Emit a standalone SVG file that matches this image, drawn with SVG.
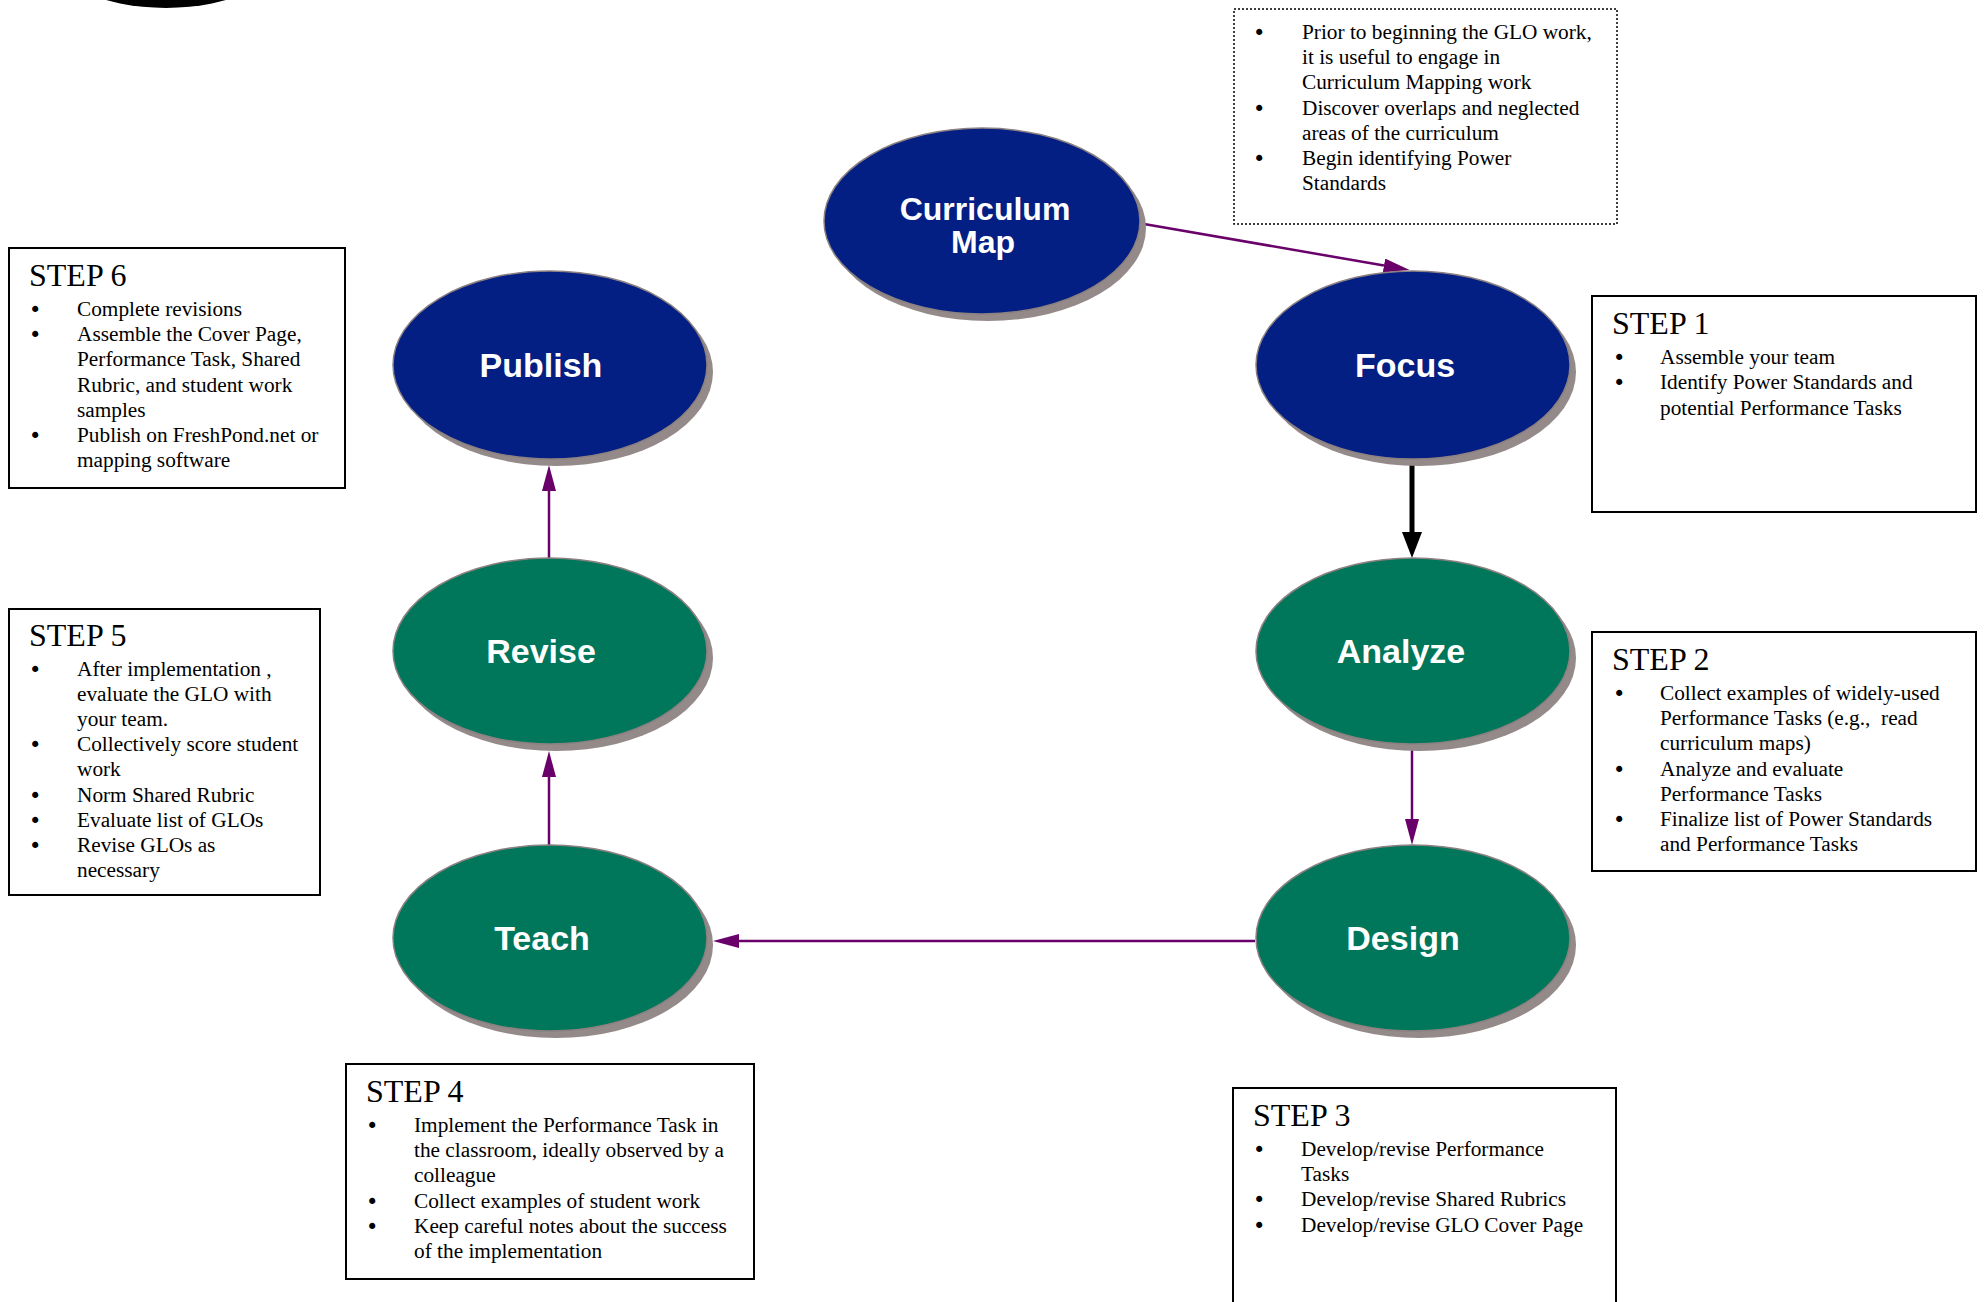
<svg xmlns="http://www.w3.org/2000/svg" width="1986" height="1302" viewBox="0 0 1986 1302">
<style>
.bg{fill:#ffffff}
.shadow{fill:#948a8a}
.blue{fill:#031f83;stroke:#8c8080;stroke-width:1.5}
.green{fill:#00765a;stroke:#8c8080;stroke-width:1.5}
.lbl{font-family:"Liberation Sans",Arial,sans-serif;font-weight:bold;font-size:34px;fill:#ffffff;text-anchor:middle}
.lbl2{font-size:32px}
.box{fill:#ffffff;stroke:#000000;stroke-width:2}
.dbox{fill:#ffffff;stroke:#000000;stroke-width:1.5;stroke-dasharray:2 2}
.hd{font-family:"Liberation Serif","Times New Roman",serif;font-size:32px;fill:#000000}
.tx{font-family:"Liberation Serif","Times New Roman",serif;font-size:21.3px;fill:#000000;white-space:pre}
.bu{font-family:"DejaVu Sans",sans-serif;font-size:21px;fill:#000000}
.pl{stroke:#6a006a;stroke-width:2.5;fill:none}
.bl{stroke:#000000;stroke-width:5;fill:none}
</style>
<defs>
<marker id="ap" markerUnits="userSpaceOnUse" markerWidth="28" markerHeight="16" refX="0" refY="7" orient="auto"><path d="M0,0 L26,7 L0,14 z" fill="#6a006a"/></marker>
<marker id="ab" markerUnits="userSpaceOnUse" markerWidth="28" markerHeight="22" refX="0" refY="10" orient="auto"><path d="M0,0 L26,10 L0,20 z" fill="#000000"/></marker>
</defs>
<rect class="bg" x="0" y="0" width="1986" height="1302"/>
<ellipse cx="166" cy="-52" rx="120" ry="60" fill="#000000"/>

<g id="connectors">
<line class="pl" x1="1144" y1="224" x2="1384" y2="265.5" marker-end="url(#ap)"/>
<line class="bl" x1="1412" y1="464" x2="1412" y2="532" marker-end="url(#ab)"/>
<line class="pl" x1="1412" y1="750" x2="1412" y2="819" marker-end="url(#ap)"/>
<line class="pl" x1="1255" y1="941" x2="739" y2="941" marker-end="url(#ap)"/>
<line class="pl" x1="549" y1="845" x2="549" y2="777" marker-end="url(#ap)"/>
<line class="pl" x1="549" y1="558" x2="549" y2="491" marker-end="url(#ap)"/>
</g>

<g id="node-curriculum-map">
<ellipse class="shadow" cx="988" cy="228" rx="158" ry="93"/>
<ellipse class="blue" cx="982" cy="221" rx="158" ry="93"/>
<text class="lbl lbl2" x="985" y="220">Curriculum</text>
<text class="lbl lbl2" x="983" y="253">Map</text>
</g>
<g id="node-publish">
<ellipse class="shadow" cx="556" cy="372" rx="157" ry="94"/>
<ellipse class="blue" cx="550" cy="365" rx="157" ry="94"/>
<text class="lbl" x="541" y="377">Publish</text>
</g>
<g id="node-focus">
<ellipse class="shadow" cx="1419" cy="372" rx="157" ry="94"/>
<ellipse class="blue" cx="1413" cy="365" rx="157" ry="94"/>
<text class="lbl" x="1405" y="377">Focus</text>
</g>
<g id="node-revise">
<ellipse class="shadow" cx="556" cy="658" rx="157" ry="93"/>
<ellipse class="green" cx="550" cy="651" rx="157" ry="93"/>
<text class="lbl" x="541" y="663">Revise</text>
</g>
<g id="node-analyze">
<ellipse class="shadow" cx="1419" cy="658" rx="157" ry="93"/>
<ellipse class="green" cx="1413" cy="651" rx="157" ry="93"/>
<text class="lbl" x="1401" y="663">Analyze</text>
</g>
<g id="node-teach">
<ellipse class="shadow" cx="556" cy="945" rx="157" ry="93"/>
<ellipse class="green" cx="550" cy="938" rx="157" ry="93"/>
<text class="lbl" x="542" y="950">Teach</text>
</g>
<g id="node-design">
<ellipse class="shadow" cx="1419" cy="945" rx="157" ry="93"/>
<ellipse class="green" cx="1413" cy="938" rx="157" ry="93"/>
<text class="lbl" x="1403" y="950">Design</text>
</g>

<g id="note-curriculum">
<rect class="dbox" x="1234" y="9" width="383" height="215"/>
<text class="bu" x="1253" y="40">•</text><text class="tx" x="1302" y="39">Prior to beginning the GLO work,</text>
<text class="tx" x="1302" y="64">it is useful to engage in</text>
<text class="tx" x="1302" y="89">Curriculum Mapping work</text>
<text class="bu" x="1253" y="116">•</text><text class="tx" x="1302" y="115">Discover overlaps and neglected</text>
<text class="tx" x="1302" y="140">areas of the curriculum</text>
<text class="bu" x="1253" y="166">•</text><text class="tx" x="1302" y="165">Begin identifying Power</text>
<text class="tx" x="1302" y="190">Standards</text>
</g>

<g id="step6">
<rect class="box" x="9" y="248" width="336" height="240"/>
<text class="hd" x="29" y="286">STEP 6</text>
<text class="bu" x="29" y="317">•</text><text class="tx" x="77" y="316">Complete revisions</text>
<text class="bu" x="29" y="342">•</text><text class="tx" x="77" y="341">Assemble the Cover Page,</text>
<text class="tx" x="77" y="366">Performance Task, Shared</text>
<text class="tx" x="77" y="392">Rubric, and student work</text>
<text class="tx" x="77" y="417">samples</text>
<text class="bu" x="29" y="443">•</text><text class="tx" x="77" y="442">Publish on FreshPond.net or</text>
<text class="tx" x="77" y="467">mapping software</text>
</g>

<g id="step1">
<rect class="box" x="1592" y="296" width="384" height="216"/>
<text class="hd" x="1612" y="334">STEP 1</text>
<text class="bu" x="1613" y="365">•</text><text class="tx" x="1660" y="364">Assemble your team</text>
<text class="bu" x="1613" y="390">•</text><text class="tx" x="1660" y="389">Identify Power Standards and</text>
<text class="tx" x="1660" y="415">potential Performance Tasks</text>
</g>

<g id="step5">
<rect class="box" x="9" y="609" width="311" height="286"/>
<text class="hd" x="29" y="646">STEP 5</text>
<text class="bu" x="29" y="677">•</text><text class="tx" x="77" y="676">After implementation ,</text>
<text class="tx" x="77" y="701">evaluate the GLO with</text>
<text class="tx" x="77" y="726">your team.</text>
<text class="bu" x="29" y="752">•</text><text class="tx" x="77" y="751">Collectively score student</text>
<text class="tx" x="77" y="776">work</text>
<text class="bu" x="29" y="803">•</text><text class="tx" x="77" y="802">Norm Shared Rubric</text>
<text class="bu" x="29" y="828">•</text><text class="tx" x="77" y="827">Evaluate list of GLOs</text>
<text class="bu" x="29" y="853">•</text><text class="tx" x="77" y="852">Revise GLOs as</text>
<text class="tx" x="77" y="877">necessary</text>
</g>

<g id="step2">
<rect class="box" x="1592" y="632" width="384" height="239"/>
<text class="hd" x="1612" y="670">STEP 2</text>
<text class="bu" x="1613" y="701">•</text><text class="tx" x="1660" y="700">Collect examples of widely-used</text>
<text class="tx" x="1660" y="725">Performance Tasks (e.g.,  read</text>
<text class="tx" x="1660" y="750">curriculum maps)</text>
<text class="bu" x="1613" y="777">•</text><text class="tx" x="1660" y="776">Analyze and evaluate</text>
<text class="tx" x="1660" y="801">Performance Tasks</text>
<text class="bu" x="1613" y="827">•</text><text class="tx" x="1660" y="826">Finalize list of Power Standards</text>
<text class="tx" x="1660" y="851">and Performance Tasks</text>
</g>

<g id="step4">
<rect class="box" x="346" y="1064" width="408" height="215"/>
<text class="hd" x="366" y="1102">STEP 4</text>
<text class="bu" x="366" y="1133">•</text><text class="tx" x="414" y="1132">Implement the Performance Task in</text>
<text class="tx" x="414" y="1157">the classroom, ideally observed by a</text>
<text class="tx" x="414" y="1182">colleague</text>
<text class="bu" x="366" y="1209">•</text><text class="tx" x="414" y="1208">Collect examples of student work</text>
<text class="bu" x="366" y="1234">•</text><text class="tx" x="414" y="1233">Keep careful notes about the success</text>
<text class="tx" x="414" y="1258">of the implementation</text>
</g>

<g id="step3">
<rect class="box" x="1233" y="1088" width="383" height="240"/>
<text class="hd" x="1253" y="1126">STEP 3</text>
<text class="bu" x="1253" y="1157">•</text><text class="tx" x="1301" y="1156">Develop/revise Performance</text>
<text class="tx" x="1301" y="1181">Tasks</text>
<text class="bu" x="1253" y="1207">•</text><text class="tx" x="1301" y="1206">Develop/revise Shared Rubrics</text>
<text class="bu" x="1253" y="1233">•</text><text class="tx" x="1301" y="1232">Develop/revise GLO Cover Page</text>
</g>
</svg>
